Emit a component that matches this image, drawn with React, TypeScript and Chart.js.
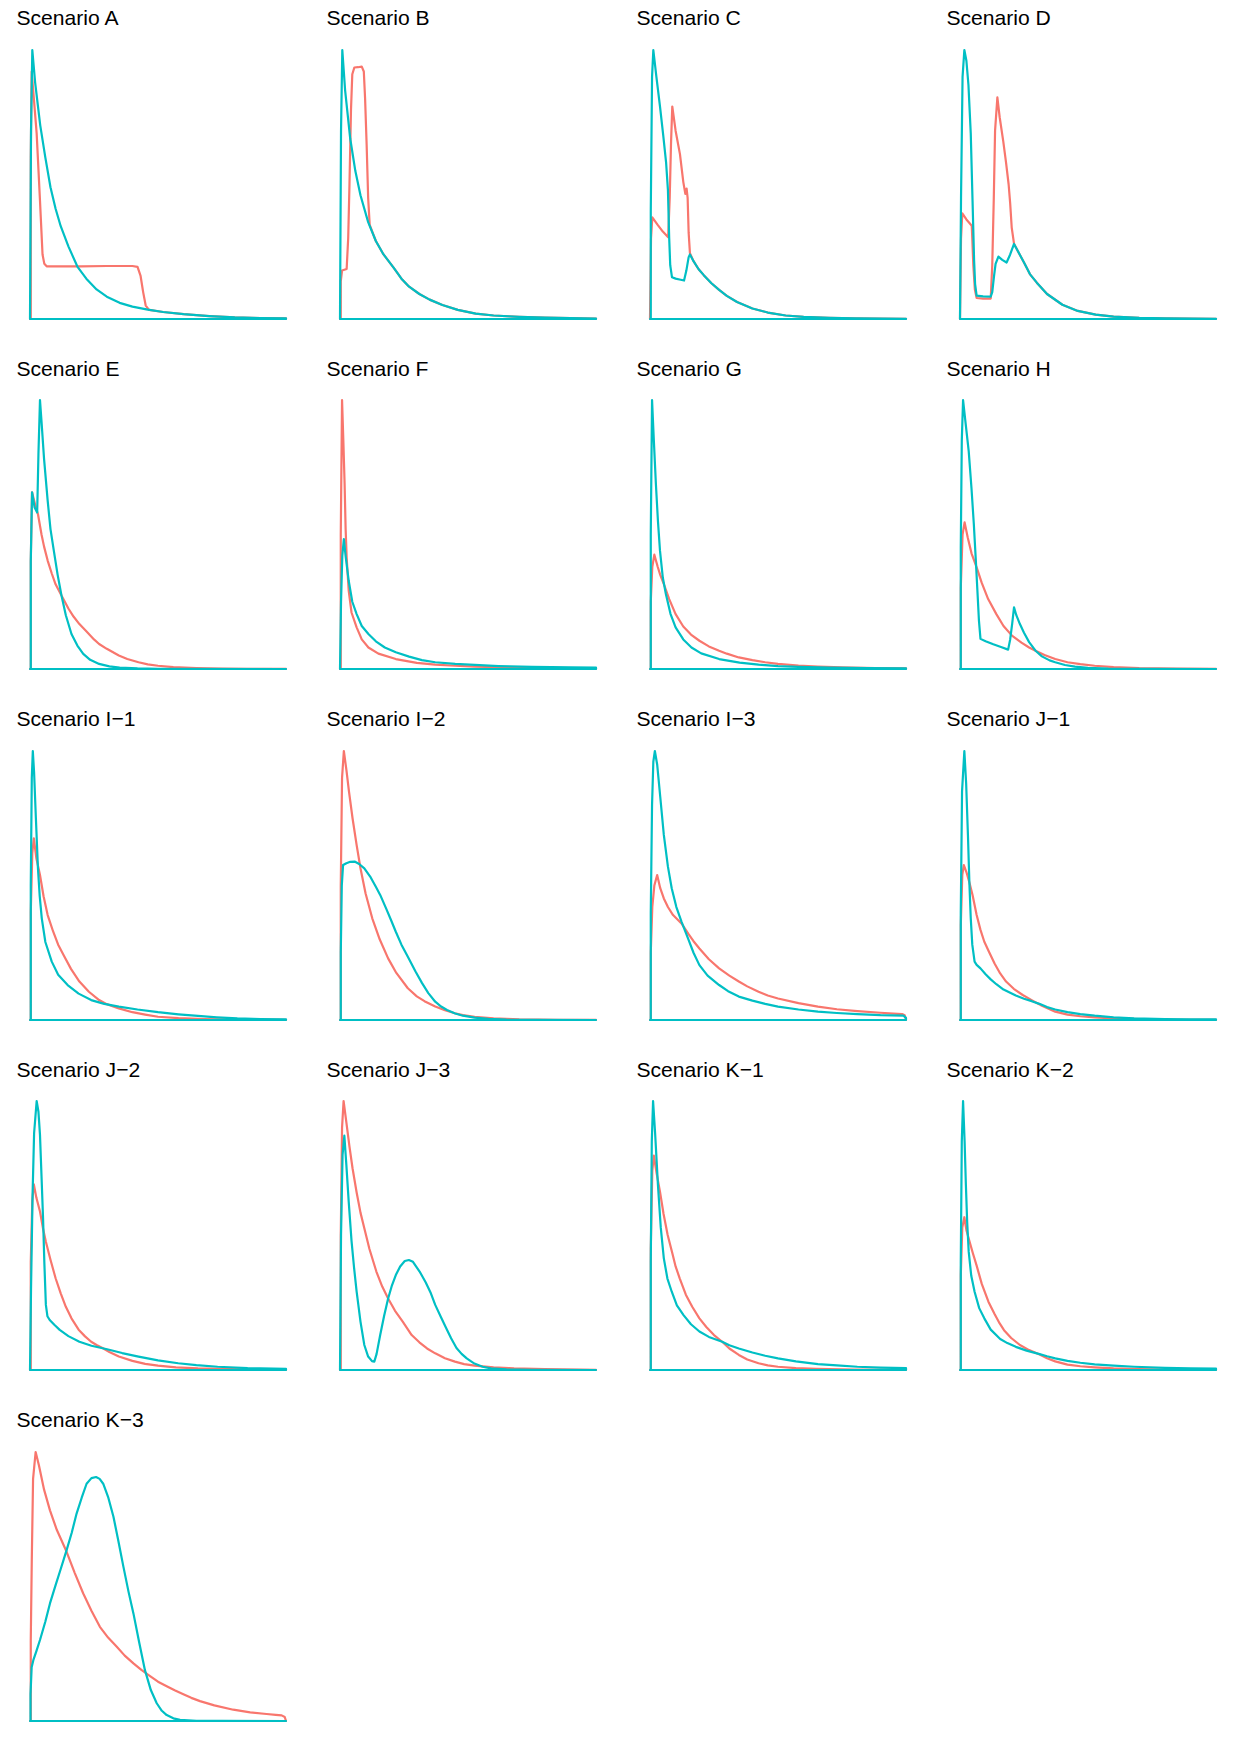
import React, { useEffect, useRef } from "react";
import { Chart, registerables } from "chart.js";
Chart.register(...registerables);

type Pt = [number, number];

const RED = "#F8766D";
const CYAN = "#00BFC4";

const titles: string[] = [
  "Scenario A", "Scenario B", "Scenario C", "Scenario D",
  "Scenario E", "Scenario F", "Scenario G", "Scenario H",
  "Scenario I\u22121", "Scenario I\u22122", "Scenario I\u22123", "Scenario J\u22121",
  "Scenario J\u22122", "Scenario J\u22123", "Scenario K\u22121", "Scenario K\u22122",
  "Scenario K\u22123",
];

// x: 0..100 across the panel, y: 0..100 relative to the panel's highest peak
const A_red: Pt[] = [[0,0],[0.3,60],[0.65,92],[1.5,82],[2.6,69],[3.9,44],[4.9,24],[5.6,20.5],[6.5,19.6],[20,19.6],[30,19.7],[40,19.7],[42,19.4],[43.2,16],[44.2,10],[45.2,5],[46.5,3.4],[52,2.6],[60,1.8],[70,1.1],[80,0.6],[90,0.35],[100,0.2],[100,0]];
const A_cyan: Pt[] = [[0,0],[0.4,70],[0.9,100],[2,88],[4,72],[6,60],[8,49],[10,41],[12,34.5],[15,27],[18.5,19.5],[22,15],[26,11],[30,8.3],[35,6],[40,4.6],[46,3.5],[52,2.6],[60,1.8],[70,1.1],[80,0.6],[90,0.35],[100,0.2],[100,0]];

const B_red: Pt[] = [[0,0],[0.3,14],[0.8,18],[2.6,18.6],[3.2,30],[3.7,50],[4.3,78],[4.8,91],[5.6,93.5],[7,93.6],[8.5,93.8],[9.3,92],[9.8,82],[10.4,65],[11,45],[11.6,35],[14,29],[17,24],[21,19],[24,15],[27,12],[31,9.3],[35,7.2],[40,5.2],[46,3.4],[53,2],[60,1.3],[70,0.8],[80,0.5],[90,0.3],[100,0.15],[100,0]];
const B_cyan: Pt[] = [[0,0],[0.4,70],[0.9,100],[2,85],[4,67],[6,55],[8,46],[11,36],[14,29],[17,24],[21,19],[24,15],[27,12],[31,9.3],[35,7.2],[40,5.2],[46,3.4],[53,2],[60,1.3],[70,0.8],[80,0.5],[90,0.3],[100,0.15],[100,0]];

const C_red: Pt[] = [[0,0],[0.4,30],[0.9,37.8],[3,35],[5,32.5],[7.1,30.4],[7.7,45],[8.2,65],[8.7,79],[10,70],[11.7,61.3],[13,51],[13.8,46.5],[14.3,48.5],[14.7,45],[15.1,32],[15.6,24.5],[17,21.5],[19,18.5],[21,16.3],[24,13.3],[27,10.8],[30,8.6],[34,6.3],[40,3.9],[46,2.4],[53,1.3],[60,0.8],[70,0.45],[80,0.25],[90,0.15],[100,0.1],[100,0]];
const C_cyan: Pt[] = [[0,0],[0.3,40],[0.8,90],[1.3,100],[2.5,90],[3.9,79],[5.2,68],[6.3,58],[7.0,48],[7.5,30],[7.9,20],[8.6,15.5],[10,15],[12,14.6],[13.3,14.3],[14.2,18],[15.1,23],[15.6,24],[17,21.5],[19,18.5],[21,16.3],[24,13.3],[27,10.8],[30,8.6],[34,6.3],[40,3.9],[46,2.4],[53,1.3],[60,0.8],[70,0.45],[80,0.25],[90,0.15],[100,0.1],[100,0]];

const D_red: Pt[] = [[0,0],[0.4,30],[0.9,39.3],[2.5,37],[4.6,34.7],[5.2,20],[5.8,11],[6.5,7.8],[9,7.6],[12,7.6],[12.6,20],[13.2,45],[13.7,70],[14.6,82.4],[15.5,75],[16.9,66],[18,58],[19,50],[19.6,43],[20.2,34],[21.1,28],[23,24.5],[25,21],[27.3,16.7],[30,13.5],[34,9.3],[40,5.3],[46,3],[53,1.6],[60,0.9],[70,0.45],[80,0.25],[90,0.15],[100,0.1],[100,0]];
const D_cyan: Pt[] = [[0,0],[0.4,45],[1,90],[1.7,100],[2.5,96],[3.3,87],[4.2,69],[4.9,44],[5.5,22],[5.9,13],[6.5,8.7],[9,8.4],[12,8.3],[12.6,10],[13.3,16],[13.9,20.5],[15,23.2],[16.5,22],[18.2,21],[19.6,24],[21.1,27.9],[23,24.5],[25,21],[27.3,16.7],[30,13.5],[34,9.3],[40,5.3],[46,3],[53,1.6],[60,0.9],[70,0.45],[80,0.25],[90,0.15],[100,0.1],[100,0]];

const E_red: Pt[] = [[0,0],[0.3,40],[0.8,65.7],[1.5,63],[2.3,60],[3.1,57.6],[4.5,50],[5.5,45.5],[6.9,40.3],[8.5,35.5],[10,31.5],[12.3,27.3],[15,22.5],[17,19.5],[19.3,16.7],[22,14],[25,11],[27,9.3],[30,7.5],[34.7,5],[38,3.7],[42.4,2.5],[46,1.7],[50,1.2],[56,0.7],[65,0.35],[75,0.15],[85,0.07],[100,0.03],[100,0]];
const E_cyan: Pt[] = [[0,0],[0.3,40],[0.8,65.7],[1.8,60],[2.8,58.2],[3.3,80],[3.9,100],[4.5,92],[5.5,78],[6.9,62.6],[8,52],[9.3,44],[10.8,35],[12.3,27.3],[14,20],[16.2,13],[18.5,8.7],[20.8,5.6],[23.5,3.4],[27,1.9],[31,1],[35,0.5],[42,0.2],[50,0.1],[100,0],[100,0]];

const F_red: Pt[] = [[0,0],[0.3,50],[0.8,100],[1.3,85],[1.8,68.8],[2.2,52],[2.6,41.5],[3.4,29.1],[4.5,21],[6.5,15.5],[8.5,11],[11.1,8],[15,5.7],[21.8,3.7],[30,2.3],[37.2,1.6],[45,1.2],[52.6,0.9],[65,0.6],[80,0.4],[100,0.25],[100,0]];
const F_cyan: Pt[] = [[0,0],[0.4,25],[0.9,42],[1.5,48.3],[2.2,42],[3.4,32.8],[4.8,25],[6.5,20.4],[8.5,16],[11.1,13],[14,10.3],[17.5,8],[21.8,6.2],[27,4.6],[32,3.3],[37.2,2.5],[45,1.9],[52.6,1.5],[62,1.1],[75,0.8],[90,0.6],[100,0.5],[100,0]];

const G_red: Pt[] = [[0,0],[0.3,25],[0.9,38],[1.7,42.5],[3,38],[4,35],[5.4,31.6],[7.5,26],[10,20.4],[13,15.8],[16,12.8],[19.3,10.5],[23,8.4],[27,6.8],[30,5.7],[34.7,4.3],[40,3.3],[45,2.5],[50,1.9],[58,1.3],[65.6,0.9],[75,0.6],[88,0.35],[100,0.2],[100,0]];
const G_cyan: Pt[] = [[0,0],[0.3,50],[0.8,100],[1.5,85],[2.3,68.8],[3.1,55],[3.9,44],[5,34],[6.2,27.9],[8,20.5],[10,15.5],[13,11],[16.2,8],[20,5.8],[27,3.7],[35,2.4],[42.4,1.6],[50,1.1],[58,0.8],[70,0.5],[85,0.3],[100,0.2],[100,0]];

const H_red: Pt[] = [[0,0],[0.3,30],[1,50],[1.8,54.5],[3,49],[4.5,43],[6.5,37.8],[8.5,32],[11,26],[14.2,20.4],[17,16],[20.3,12.4],[24,9.8],[27,8],[29.5,6.8],[33,5.2],[37.2,3.7],[42,2.5],[47,1.8],[52.6,1.2],[60,0.7],[70,0.35],[85,0.15],[100,0.05],[100,0]];
const H_cyan: Pt[] = [[0,0],[0.3,45],[0.7,85],[1.2,100],[2,93],[3.4,81],[4.5,67],[5.4,53.9],[6.2,40],[6.8,29.1],[7.4,18],[8,11.2],[10,10.3],[13,9.2],[16,8.2],[18.8,7.2],[19.6,11],[20.4,17],[21.1,22.9],[22,20],[23.4,16.7],[25,13.5],[27,10],[29.5,6.8],[32,4.7],[35,3.2],[37.2,2.5],[41,1.5],[44.9,0.9],[50,0.4],[58,0.15],[70,0.05],[100,0],[100,0]];

const I1_red: Pt[] = [[0,0],[0.3,40],[0.9,62],[1.5,67.5],[2.5,60],[3.9,53.9],[5.3,46],[6.9,39],[9,33],[11,28],[13.1,24.2],[16,19],[19.3,14.3],[23,10.5],[27,7.4],[30,5.9],[34.7,4.3],[40,2.9],[45,2],[50,1.2],[58,0.7],[68,0.35],[80,0.15],[100,0.05],[100,0]];
const I1_cyan: Pt[] = [[0,0],[0.3,50],[0.7,90],[1.1,100],[1.6,92],[2.3,75],[3.1,56.4],[3.8,46],[4.6,37.8],[6,29],[8.5,21.7],[11,16.8],[14.7,13],[19,9.8],[23.9,7.4],[29,6],[34.7,5],[42,3.9],[50,2.9],[58,2.1],[65.6,1.5],[73,1],[81,0.6],[90,0.35],[100,0.2],[100,0]];

const I2_red: Pt[] = [[0,0],[0.3,50],[0.8,90],[1.5,100],[2.5,93],[3.5,85],[4.9,75],[6.5,65],[8,56.4],[10,47],[12.6,37.8],[15.5,30],[18.8,22.9],[22,17.5],[26.5,11.8],[30,8.8],[33,7],[37.2,5],[41,3.6],[44.9,2.5],[48,1.8],[52.6,1.2],[60,0.6],[70,0.25],[85,0.1],[100,0.03],[100,0]];
const I2_cyan: Pt[] = [[0,0],[0.3,25],[0.7,50],[1.2,57.6],[2.5,58.3],[4,58.8],[5.7,58.9],[7.5,58],[9.5,56.4],[12,53],[14,49.5],[15.7,46.5],[18,41.5],[20,37],[21.8,32.8],[24,28],[26.5,23.5],[29.5,18],[32,13.8],[34.5,10],[37.2,6.8],[39.5,5],[41.8,3.7],[45,2.4],[48,1.6],[52.6,0.9],[58,0.4],[65,0.15],[75,0.05],[100,0],[100,0]];

const I3_red: Pt[] = [[0,0],[0.3,25],[0.9,42],[1.7,50],[2.8,53.9],[4,49],[5.4,45.2],[7,42],[9,39],[12.3,35.9],[15,32],[17,29.3],[19.3,26.6],[23,22.6],[27,19.2],[31,16.5],[34.7,14.3],[38,12.5],[42.4,10.5],[46,9.1],[50,8],[58,6.3],[65.6,5],[73,4],[81,3.3],[90,2.7],[98.5,2.2],[99.5,1.8],[100,0]];
const I3_cyan: Pt[] = [[0,0],[0.3,40],[0.8,80],[1.3,96],[1.9,100],[2.8,95],[4,83],[5.4,68.8],[7,57],[8.5,48.9],[10.3,42],[12.3,36.6],[15,30],[17,25],[19.3,20.4],[22.5,16.5],[27,13],[30.5,10.7],[34.7,8.7],[40,7.2],[45,6],[50,5],[58,3.9],[65.6,3.1],[73,2.6],[81,2.2],[90,1.8],[99,1.6],[100,0.8],[100,0]];

const J1_red: Pt[] = [[0,0],[0.3,35],[0.9,54],[1.5,57.6],[2.5,55],[3.7,51],[4.9,46.5],[6.5,39],[8,33.5],[9.5,29.1],[11.5,25],[13.5,21],[15.7,17.3],[18,14.3],[21,11.6],[24.5,9.3],[28,7.4],[32,5.3],[37.2,3.1],[42,2],[47,1.4],[52.6,1],[60,0.6],[70,0.3],[85,0.1],[100,0.05],[100,0]];
const J1_cyan: Pt[] = [[0,0],[0.3,40],[0.8,85],[1.7,100],[2.4,88],[3.1,68.8],[3.7,50],[4.2,37.8],[4.8,28],[5.7,21.7],[6.5,20.5],[8,19.2],[10,17],[12,15.1],[14.2,13.3],[17,11.3],[21.8,9.1],[25,7.9],[28,7],[31,6],[34,4.8],[37.2,3.9],[42,2.9],[47,2.2],[52.6,1.6],[60,1],[68,0.6],[80,0.35],[90,0.25],[100,0.2],[100,0]];

const J2_red: Pt[] = [[0,0],[0.3,40],[0.9,63],[1.5,69],[2.5,64],[3.9,58.9],[5,53],[6.2,47.7],[8,41],[10,34.1],[12,28.5],[14,23.5],[16.2,19.2],[19,15],[21.5,12.5],[23.9,10.5],[26,9.3],[28.5,8.1],[31,6.7],[34.7,5],[40,3.4],[45,2.3],[50,1.6],[57,1],[65.6,0.6],[78,0.3],[100,0.1],[100,0]];
const J2_cyan: Pt[] = [[0,0],[0.4,30],[1,65],[1.6,88],[2.6,100],[3.3,96],[3.9,87.4],[4.5,72],[5.1,56.4],[5.6,40],[6.2,24.2],[6.8,20],[7.7,18.6],[9.5,16.8],[11.6,14.9],[15,12.6],[19.3,10.5],[24,9],[30.1,7.7],[36,6.3],[42.4,5],[50,3.6],[57.9,2.5],[65,1.8],[73.3,1.2],[85,0.7],[100,0.4],[100,0]];

const J3_red: Pt[] = [[0,0],[0.3,50],[0.8,90],[1.4,100],[2.5,92],[3.7,83],[4.9,75],[6.5,66],[8,58.5],[9.5,52.7],[11.5,45],[14.2,36.6],[16.5,31],[18.8,26.6],[21.5,22],[24.5,18],[28,13],[31,10.3],[34,8],[37.2,6.2],[41,4.4],[44.9,3.1],[48.5,2.2],[52.6,1.6],[60,1],[68,0.6],[80,0.3],[100,0.1],[100,0]];
const J3_cyan: Pt[] = [[0,0],[0.4,50],[1,80],[1.7,87.1],[2.5,76],[3.4,62.6],[4.5,48],[5.5,38],[6.5,29.1],[8,18],[9.5,9.3],[11,5],[12.5,3.3],[13.4,3.1],[14.3,6],[15.7,13],[17.2,20],[18.8,26.6],[20.3,31.5],[21.8,35.3],[23.5,38.5],[25.3,40.5],[26.9,40.9],[28.5,40.2],[31.1,36.6],[33.5,32.5],[35.5,28.5],[37.2,24.2],[39.5,19.5],[41.5,15.5],[43.4,11.8],[45.5,8.2],[47.5,6],[49.5,4.3],[52.5,2.4],[55.7,1.2],[59,0.6],[65,0.2],[75,0.05],[100,0],[100,0]];

const K1_red: Pt[] = [[0,0],[0.3,45],[0.9,74],[1.5,79.7],[2.6,73],[3.9,66.3],[5.3,58],[6.9,50.2],[8.7,43.5],[10,38.5],[11.6,34.1],[14,28],[16.5,23.5],[19.3,19.2],[22,16],[25,13],[28.2,10.5],[31,8],[34.7,5.6],[38,3.9],[42.4,2.5],[46,1.7],[50,1.2],[57,0.7],[65,0.4],[80,0.15],[100,0.05],[100,0]];
const K1_cyan: Pt[] = [[0,0],[0.3,40],[0.7,85],[1.2,100],[2,88],[3.1,68.8],[4.2,53],[5.4,41.5],[6.8,34],[8.5,29.1],[10.5,24],[13.1,20.4],[16,17],[19.3,14.3],[23,12.3],[28.2,10.5],[31,9.2],[34.7,8],[40,6.5],[45,5.3],[50,4.3],[57,3.2],[65.6,2.2],[73,1.7],[81,1.2],[90,0.9],[100,0.7],[100,0]];

const K2_red: Pt[] = [[0,0],[0.3,35],[0.9,53],[1.7,56.8],[2.5,52],[3.4,48.9],[5,43.5],[6.5,38.8],[8.5,32],[11.1,25.4],[13.5,20.8],[15.5,17.3],[17.2,14.8],[20,11.9],[23.4,9.3],[27,7.4],[31.1,5.8],[34,4.4],[37.2,3.2],[42,2],[47,1.4],[52.6,1],[60,0.6],[70,0.3],[85,0.1],[100,0.05],[100,0]];
const K2_cyan: Pt[] = [[0,0],[0.3,40],[0.7,85],[1.2,100],[1.8,85],[2.3,68.8],[2.8,55],[3.4,44],[4.4,35],[5.7,29.1],[7.5,23],[9.5,19.2],[12,15],[15.7,11.5],[18.5,10],[21.8,8.6],[26,7.2],[31.1,5.9],[34,5.1],[37.2,4.3],[42,3.4],[47,2.7],[52.6,2.1],[60,1.6],[68,1.2],[80,0.8],[90,0.6],[100,0.5],[100,0]];

const K3_red: Pt[] = [[0,0],[0.3,30],[0.7,60],[1.2,90],[2.2,100],[3.5,95],[5.5,86],[7.8,78.3],[10.5,71],[14.3,62.9],[17.5,55],[20.8,47.4],[24,41],[27.3,35],[30.5,31],[33.9,27.6],[37,24.3],[40.4,21.4],[43.5,19],[46.9,16.7],[50,14.6],[53.4,12.9],[56.5,11.4],[59.9,9.9],[63,8.6],[66.4,7.4],[72,5.8],[79.4,4.2],[86,3.2],[92.4,2.6],[96,2.3],[98.3,2.1],[99.5,1.5],[100,0]];
const K3_cyan: Pt[] = [[0,0],[0.2,10],[0.65,20],[1.3,22.6],[2.5,26],[3.9,30.1],[6,37],[7.8,43.7],[10,50.5],[12,56.5],[14.3,63.5],[16.3,70],[18.2,77.1],[20.2,83],[22.1,88.2],[24,90.3],[25.8,90.7],[27.2,90],[28.6,88.2],[30.6,83],[32.6,75.9],[34.5,67],[36.5,57.3],[38.5,48],[40.4,40],[42.7,29],[44.9,18.9],[47.2,11.5],[49.5,6.6],[51.5,3.8],[53.4,2.2],[56,1],[58.6,0.4],[65,0.1],[75,0.02],[100,0],[100,0]];

const redSeries: Pt[][] = [A_red, B_red, C_red, D_red, E_red, F_red, G_red, H_red, I1_red, I2_red, I3_red, J1_red, J2_red, J3_red, K1_red, K2_red, K3_red];
const cyanSeries: Pt[][] = [A_cyan, B_cyan, C_cyan, D_cyan, E_cyan, F_cyan, G_cyan, H_cyan, I1_cyan, I2_cyan, I3_cyan, J1_cyan, J2_cyan, J3_cyan, K1_cyan, K2_cyan, K3_cyan];

const COL_W = 310;
const ROW_H = 350.6;
const PLOT_L = 30;
const PLOT_T = 49.5;
const PLOT_W = 256;
const PLOT_H = 269;
const PAD = 6;

// close the density polygon back along the baseline
const toPolygon = (pts: Pt[]) => [...pts, [pts[0][0], 0] as Pt].map(([x, y]) => ({ x, y }));

function Panel({ idx }: { idx: number }) {
  const ref = useRef<HTMLCanvasElement>(null);
  useEffect(() => {
    const common = {
      borderWidth: 2.2,
      pointRadius: 0,
      tension: 0,
      fill: false,
      clip: false as const,
      borderJoinStyle: "round" as const,
      borderCapStyle: "round" as const,
    };
    // Chart.js paints dataset 0 last, so cyan (on top in the reference) comes first
    const chart = new Chart(ref.current!, {
      type: "line",
      data: {
        datasets: [
          { ...common, data: toPolygon(cyanSeries[idx]), borderColor: CYAN },
          { ...common, data: toPolygon(redSeries[idx]), borderColor: RED },
        ],
      },
      options: {
        animation: false,
        responsive: false,
        maintainAspectRatio: false,
        events: [],
        layout: { padding: PAD },
        plugins: { legend: { display: false }, tooltip: { enabled: false } },
        scales: {
          x: { type: "linear", min: 0, max: 100, display: false },
          y: { type: "linear", min: 0, max: 100, display: false },
        },
      },
    } as any);
    return () => chart.destroy();
  }, [idx]);

  const col = idx % 4;
  const row = Math.floor(idx / 4);
  return (
    <div style={{ position: "absolute", left: col * COL_W, top: row * ROW_H, width: COL_W, height: ROW_H }}>
      <div
        style={{
          position: "absolute",
          left: 16.5,
          top: 4,
          fontFamily: '"Liberation Sans", Arial, Helvetica, sans-serif',
          fontSize: 21.1,
          lineHeight: "27px",
          color: "#000",
          whiteSpace: "nowrap",
        }}
      >
        {titles[idx]}
      </div>
      <canvas
        ref={ref}
        width={PLOT_W + 2 * PAD}
        height={PLOT_H + 2 * PAD}
        style={{ position: "absolute", left: PLOT_L - PAD, top: PLOT_T - PAD, width: PLOT_W + 2 * PAD, height: PLOT_H + 2 * PAD }}
      />
    </div>
  );
}

export default function App() {
  return (
    <div style={{ position: "absolute", left: 0, top: 0, width: 1240, height: 1753, background: "#fff", overflow: "hidden" }}>
      {titles.map((_, i) => (
        <Panel key={i} idx={i} />
      ))}
    </div>
  );
}
